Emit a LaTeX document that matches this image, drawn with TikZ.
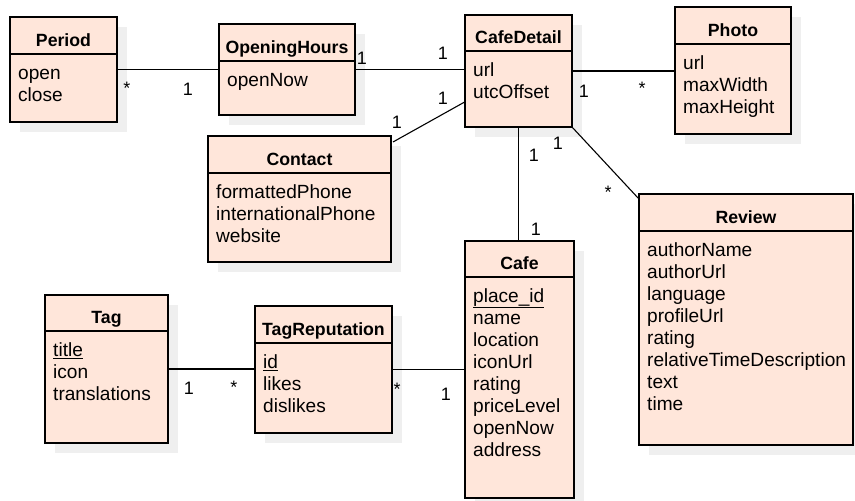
\documentclass[tikz,border=0pt]{standalone}
\usepackage{fontspec}
\setmainfont{Liberation Sans}
\usetikzlibrary{calc,positioning}
\definecolor{classfill}{HTML}{FFE6DA}
\definecolor{shadowgray}{HTML}{EFEFEF}

\tikzset{
  classbox/.style={draw, line width=1.1pt, fill=classfill, inner sep=0pt, outer sep=0pt, anchor=north west},
  classtitle/.style={font=\fontsize{17.7}{21}\selectfont\bfseries, inner sep=0pt, anchor=base},
  classattrs/.style={font=\fontsize{19.1}{22}\selectfont, align=left, inner sep=0pt, anchor=north west},
  mult/.style={font=\fontsize{18}{22}\selectfont, inner sep=0pt},
  assoc/.style={line width=1.1pt}
}

% \umlclass{name}{x}{y}{width}{height}{header}{title}{attributes}
\newcommand{\umlclass}[8]{%
  \fill[shadowgray] (#2+10,#3+10) rectangle ++(#4,#5);
  \node[classbox, minimum width=#4pt, minimum height=#5pt] (#1) at (#2,#3) {};
  \draw[line width=1.1pt] (#2,#3+#6) -- (#2+#4,#3+#6);
  \node[classtitle] (#1-title) at (#2+#4/2,#3+#6-8) {#7};
  \node[classattrs] (#1-attrs) at (#2+8,#3+#6+9.6) {\strut #8};
}

\begin{document}
\begin{tikzpicture}[x=1pt, y=-1pt]
  \useasboundingbox (0,0) rectangle (855,501);

  % classes
  \umlclass{Period}{10}{17}{107}{105}{37}{Period}{open\\close}
  \umlclass{OpeningHours}{219}{24}{136}{91}{37}{OpeningHours}{openNow}
  \umlclass{Contact}{208}{136}{183}{126}{37}{Contact}{formattedPhone\\internationalPhone\\website}
  \umlclass{CafeDetail}{465}{15}{107}{112}{36}{CafeDetail}{url\\utcOffset}
  \umlclass{Photo}{675}{7}{116}{127}{37}{Photo}{url\\maxWidth\\maxHeight}
  \umlclass{Review}{639}{194}{214}{251}{37}{Review}{authorName\\authorUrl\\language\\profileUrl\\rating\\relativeTimeDescription\\text\\time}
  \umlclass{Cafe}{465}{241}{109}{257}{36}{Cafe}{\underline{place\_id}\\name\\location\\iconUrl\\rating\\priceLevel\\openNow\\address}
  \umlclass{Tag}{45}{295}{123}{148}{36}{Tag}{\underline{title}\\icon\\translations}
  \umlclass{TagReputation}{255}{306}{137}{127}{37}{TagReputation}{\underline{id}\\likes\\dislikes}

  % associations
  \draw[assoc] (Period.east) -- (OpeningHours.west);
  \draw[assoc] (OpeningHours.east) -- (OpeningHours.east -| CafeDetail.west);
  \draw[assoc] ($(Contact.north east)+(2,6)$) -- ($(CafeDetail.west)!0.55!(CafeDetail.south west)$);
  \draw[assoc] (CafeDetail.east) -- (CafeDetail.east -| Photo.west);
  \draw[assoc] (CafeDetail.south) -- (CafeDetail.south |- Cafe.north);
  \draw[assoc] (CafeDetail.south east) -- ($(Review.north west)+(0,5)$);
  \draw[assoc] (Tag.east) -- (Tag.east -| TagReputation.west);
  \draw[assoc] (TagReputation.east) -- (TagReputation.east -| Cafe.west);

  % multiplicities
  \node[mult] (m1) at (127,88) {*};
  \node[mult] (m2) at (188,89) {1};
  \node[mult] (m3) at (362,58) {1};
  \node[mult] (m4) at (443,53) {1};
  \node[mult] (m5) at (397,122) {1};
  \node[mult] (m6) at (443,98) {1};
  \node[mult] (m7) at (584,91) {1};
  \node[mult] (m8) at (642,88) {*};
  \node[mult] (m9) at (534,155) {1};
  \node[mult] (m10) at (536,229) {1};
  \node[mult] (m11) at (558,143) {1};
  \node[mult] (m12) at (608,192) {*};
  \node[mult] (m13) at (189,388) {1};
  \node[mult] (m14) at (234,387) {*};
  \node[mult] (m15) at (397,389) {*};
  \node[mult] (m16) at (446,394) {1};
\end{tikzpicture}
\end{document}
